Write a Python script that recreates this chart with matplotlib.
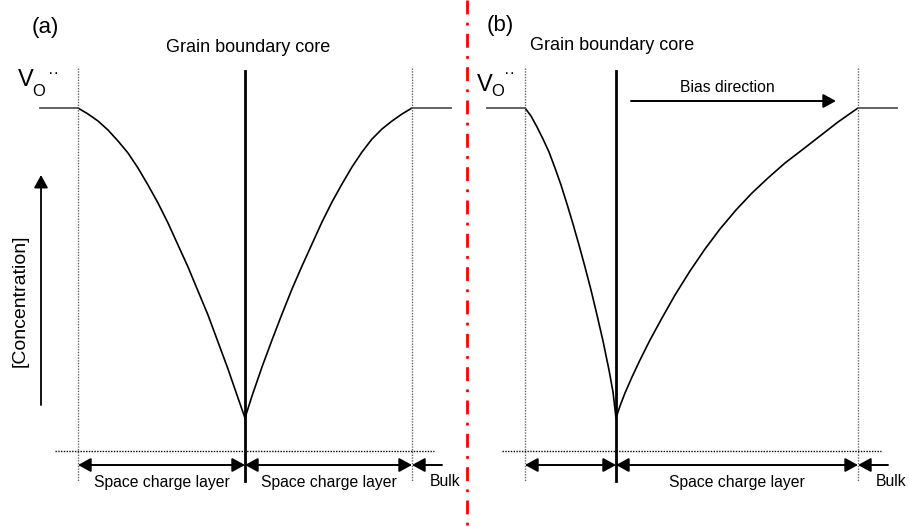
import matplotlib
matplotlib.use("Agg")
import matplotlib.pyplot as plt

plt.rcParams['font.family'] = ['Liberation Sans', 'DejaVu Sans']

# ---- data (pixel-space schematic coordinates) ----
# panel (a)
a_left_x = [78, 88, 98, 108, 118, 128, 138, 148, 158, 168, 178, 188, 198, 208, 218, 228, 238, 245]
a_left_y = [108, 114, 121, 130, 141, 153, 168, 185, 203, 223, 245, 267, 291, 315, 342, 369, 398, 418]
a_right_x = [245, 252, 262, 272, 282, 292, 302, 312, 322, 332, 342, 352, 362, 372, 382, 392, 402, 412]
a_right_y = [418, 396, 367, 340, 314, 289, 266, 244, 222, 202, 184, 167, 152, 139, 129, 121, 114, 108]
# panel (b)
b_left_x = [525, 531, 537, 543, 549, 555, 561, 567, 573, 579, 585, 591, 597, 603, 609, 613, 616]
b_left_y = [108, 116, 127, 139, 152, 168, 185, 204, 224, 245, 267, 290, 315, 341, 370, 392, 418]
b_right_x = [616, 620, 625, 632, 640, 650, 662, 675, 690, 705, 720, 736, 752, 768, 785, 802, 820, 838, 858]
b_right_y = [418, 406, 393, 377, 360, 340, 318, 295, 271, 249, 229, 210, 193, 178, 163, 150, 136, 122, 108]

# boundaries: [left dotted, core, right dotted]
a_bounds = [78, 245, 412]
b_bounds = [525, 616, 858]
plateau_y = 108
labels = ["(a)", "(b)"]
core_label = "Grain boundary core"
scl_label = "Space charge layer"
bulk_label = "Bulk"
bias_label = "Bias direction"
ylabel = "[Concentration]"

fig = plt.figure(figsize=(9.09, 5.27), dpi=100)
ax = fig.add_axes([0, 0, 1, 1])
ax.set_xlim(0, 909)
ax.set_ylim(527, 0)
ax.axis('off')

curve_kw = dict(color='black', lw=1.2, solid_capstyle='round', solid_joinstyle='round')
ax.plot(a_left_x, a_left_y, **curve_kw)
ax.plot(a_right_x, a_right_y, **curve_kw)
ax.plot(b_left_x, b_left_y, **curve_kw)
ax.plot(b_right_x, b_right_y, **curve_kw)

TXT = 11.3

def panel(bounds, plat_l, plat_r, hline, bulk_end, lab_xy, core_xy, v_pos):
    l, c, r = bounds
    for x in (l, r):
        ax.plot([x, x], [68, 481], color='#666666', lw=1.0, ls=(0, (1, 1)))
    ax.plot([c, c], [71, 481], color='black', lw=2.0)
    ax.plot([plat_l, l], [plateau_y, plateau_y], color='#555555', lw=1.3)
    ax.plot([r, plat_r], [plateau_y, plateau_y], color='#555555', lw=1.3)
    ax.plot(hline, [451, 451], color='black', lw=1.0, ls=(0, (1, 1)))
    akw = dict(arrowstyle='<|-|>,head_length=0.55,head_width=0.3', color='black', lw=1.4,
               shrinkA=0, shrinkB=0, mutation_scale=14)
    ax.annotate('', xy=(l, 465), xytext=(c, 465), arrowprops=akw)
    ax.annotate('', xy=(c, 465), xytext=(r, 465), arrowprops=akw)
    bkw = dict(arrowstyle='-|>,head_length=0.55,head_width=0.3', color='black', lw=1.4,
               shrinkA=0, shrinkB=0, mutation_scale=14)
    ax.annotate('', xy=(r, 465), xytext=(bulk_end, 465), arrowprops=bkw)
    ax.text(lab_xy[0], lab_xy[1], lab_xy[2], fontsize=16, ha='center', va='center')
    ax.text(core_xy[0], core_xy[1], core_label, fontsize=13, ha='center', va='center')
    (vx, vy), (ox, oy), (dx, dy) = v_pos
    ax.text(vx, vy, "V", fontsize=17, ha='center', va='center')
    ax.text(ox, oy, "O", fontsize=12, ha='center', va='center')
    ax.text(dx, dy, "··", fontsize=12, ha='center', va='center')
    ax.text(bulk_end + 3, 482, bulk_label, fontsize=TXT, ha='center', va='center')

panel(a_bounds, 40, 451, [55, 434], 442, (45, 27, labels[0]), (248, 48),
      ((25.5, 80), (39, 91), (54, 74)))
panel(b_bounds, 487, 897, [502, 881], 888, (500, 25, labels[1]), (612, 46),
      ((484.5, 85), (497.5, 91), (510, 74)))

ax.text((a_bounds[0] + a_bounds[1]) / 2, 482, scl_label, fontsize=TXT, ha='center', va='center')
ax.text((a_bounds[1] + a_bounds[2]) / 2, 482, scl_label, fontsize=TXT, ha='center', va='center')
ax.text((b_bounds[1] + b_bounds[2]) / 2, 482, scl_label, fontsize=TXT, ha='center', va='center')

ax.annotate('', xy=(836, 101), xytext=(631, 101),
            arrowprops=dict(arrowstyle='-|>,head_length=0.55,head_width=0.3', color='black',
                            lw=1.4, shrinkA=0, shrinkB=0, mutation_scale=14))
ax.text(727, 87, bias_label, fontsize=TXT, ha='center', va='center')

ax.annotate('', xy=(41, 175), xytext=(41, 405),
            arrowprops=dict(arrowstyle='-|>,head_length=0.55,head_width=0.3', color='black',
                            lw=1.3, shrinkA=0, shrinkB=0, mutation_scale=14))
ax.text(20, 301, ylabel, fontsize=14, rotation=90, ha='center', va='center')

ax.plot([467, 467], [0, 527], color='red', lw=2.0, ls=(0, (5, 3, 1, 3)))

fig.savefig('out.png', dpi=100)
